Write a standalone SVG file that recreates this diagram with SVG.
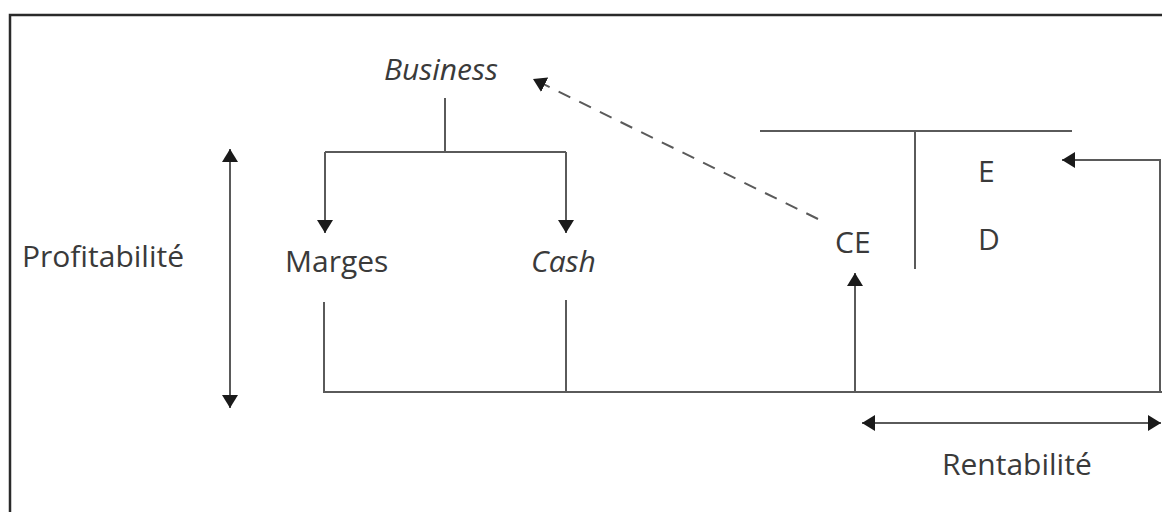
<svg xmlns="http://www.w3.org/2000/svg" width="1162" height="512" viewBox="0 0 1162 512">
<defs>
<style>
.t{font-family:"Open Sans","Liberation Sans",sans-serif;font-size:30px;fill:#3a3a3a}
.i{font-style:italic}
.ln{stroke:#5a5a5a;stroke-width:2;fill:none}
.fr{stroke:#2a2a2a;stroke-width:2.5;fill:none}
</style>
<marker id="ah" viewBox="0 0 13 16" refX="13" refY="8" markerWidth="13" markerHeight="16" markerUnits="userSpaceOnUse" orient="auto-start-reverse">
<path d="M0,0 L13,8 L0,16 z" fill="#1a1a1a"/>
</marker>
</defs>
<rect width="1162" height="512" fill="#ffffff"/>
<path class="fr" d="M10,512 V15 H1162"/>
<g id="business"><text class="t i" x="384" y="80" font-size="31">Business</text></g>
<g id="marges"><text class="t" x="285" y="272">Marges</text></g>
<g id="cash"><text class="t i" x="531" y="272">Cash</text></g>
<g id="profitabilite"><text class="t" x="22" y="267">Profitabilité</text></g>
<g id="rentabilite"><text class="t" x="942" y="475">Rentabilité</text></g>
<g id="ce"><text class="t" x="835" y="253">CE</text></g>
<g id="bilan">
<path class="ln" d="M760,131 H1072 M915,131 V269"/>
<text class="t" x="978" y="182">E</text>
<text class="t" x="978" y="250">D</text>
</g>
<g id="connectors">
<path class="ln" d="M445,98 V152 M325,152 H566"/>
<path class="ln" d="M325,152 V233" marker-end="url(#ah)"/>
<path class="ln" d="M566,152 V233" marker-end="url(#ah)"/>
<path class="ln" d="M324,302 V392 H1162 M566,300 V392"/>
<path class="ln" d="M855,392 V273" marker-end="url(#ah)"/>
<path class="ln" d="M1160,392 V160 H1062" marker-end="url(#ah)"/>
<path class="ln" d="M818,219 L533,79" stroke-dasharray="13,10" marker-end="url(#ah)"/>
<path class="ln" d="M230,149 V408" marker-start="url(#ah)" marker-end="url(#ah)"/>
<path class="ln" d="M862,423 H1161" marker-start="url(#ah)" marker-end="url(#ah)"/>
</g>
</svg>
